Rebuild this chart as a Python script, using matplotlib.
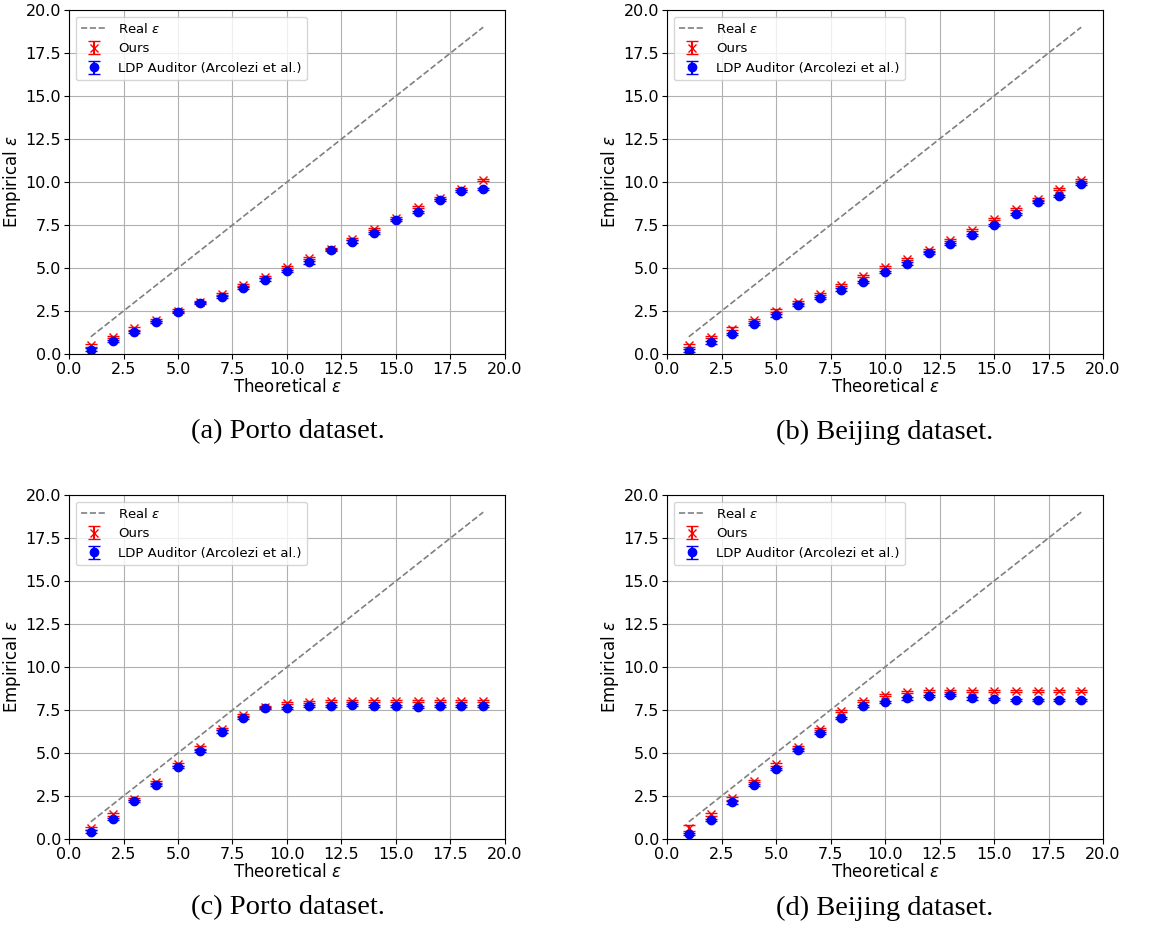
import numpy as np
import matplotlib
matplotlib.use("Agg")
import matplotlib.pyplot as plt

# theoretical epsilon values
eps = [1, 2, 3, 4, 5, 6, 7, 8, 9, 10, 11, 12, 13, 14, 15, 16, 17, 18, 19]

# (a) Porto, first setting
porto_ours = [0.50, 0.99, 1.49, 1.97, 2.52, 3.00, 3.50, 4.00, 4.50, 5.05,
              5.58, 6.08, 6.68, 7.28, 7.93, 8.52, 9.08, 9.62, 10.13]
porto_ldp = [0.25, 0.75, 1.28, 1.86, 2.44, 2.94, 3.29, 3.85, 4.33, 4.85,
             5.32, 6.02, 6.54, 7.04, 7.78, 8.28, 8.94, 9.48, 9.57]

# (b) Beijing, first setting
beijing_ours = [0.50, 0.99, 1.47, 1.97, 2.52, 3.02, 3.48, 4.00, 4.52, 5.04,
                5.53, 6.07, 6.63, 7.20, 7.85, 8.42, 9.00, 9.58, 10.12]
beijing_ldp = [0.19, 0.68, 1.16, 1.76, 2.24, 2.84, 3.23, 3.75, 4.18, 4.78,
               5.26, 5.86, 6.38, 6.90, 7.52, 8.14, 8.84, 9.17, 9.86]

# (c) Porto, second setting
porto2_ours = [0.62, 1.43, 2.32, 3.31, 4.34, 5.32, 6.41, 7.22, 7.69, 7.88,
               7.96, 8.00, 8.00, 8.00, 8.00, 8.00, 8.00, 8.00, 8.00]
porto2_ldp = [0.43, 1.16, 2.20, 3.14, 4.18, 5.13, 6.25, 7.05, 7.61, 7.61,
              7.73, 7.73, 7.78, 7.73, 7.73, 7.69, 7.73, 7.73, 7.73]

# (d) Beijing, second setting
beijing2_ours = [0.66, 1.45, 2.36, 3.37, 4.34, 5.36, 6.41, 7.42, 8.05, 8.38,
                 8.52, 8.58, 8.58, 8.58, 8.58, 8.58, 8.58, 8.58, 8.58]
beijing2_ldp = [0.29, 1.12, 2.13, 3.14, 4.05, 5.17, 6.14, 7.05, 7.74, 7.98,
                8.17, 8.29, 8.38, 8.17, 8.13, 8.09, 8.09, 8.09, 8.09]

# small standard deviations (error bars)
err_ours = [0.10, 0.08, 0.08, 0.07, 0.07, 0.06, 0.06, 0.06, 0.06, 0.06,
            0.06, 0.06, 0.06, 0.06, 0.06, 0.06, 0.06, 0.06, 0.06]
err_ours_d = [0.18, 0.09, 0.08, 0.07, 0.07, 0.06, 0.06, 0.06, 0.06, 0.06,
              0.06, 0.06, 0.06, 0.06, 0.06, 0.06, 0.06, 0.06, 0.06]
err_ldp = [0.08, 0.07, 0.07, 0.06, 0.06, 0.06, 0.06, 0.06, 0.06, 0.06,
           0.06, 0.06, 0.06, 0.06, 0.06, 0.06, 0.06, 0.06, 0.06]

captions = ["(a) Porto dataset.", "(b) Beijing dataset.",
            "(c) Porto dataset.", "(d) Beijing dataset."]

panels = [(porto_ours, porto_ldp, err_ours),
          (beijing_ours, beijing_ldp, err_ours),
          (porto2_ours, porto2_ldp, err_ours),
          (beijing2_ours, beijing2_ldp, err_ours_d)]

W, H = 1152, 947
fig = plt.figure(figsize=(W / 100, H / 100), dpi=100)

# axes boxes in pixels: left, top, right, bottom
boxes = [(69, 10, 505, 354), (667, 10, 1103, 354),
         (69, 495, 505, 839), (667, 495, 1103, 839)]
cap_pos = [(288, 432), (885, 432), (288, 908), (885, 908)]

for box, (ours, ldp, err_o), cap, cp in zip(boxes, panels, captions, cap_pos):
    l, t, r, b = box
    ax = fig.add_axes([l / W, 1 - b / H, (r - l) / W, (b - t) / H])
    ax.plot(eps, eps, "--", color="gray", linewidth=1.2, label=r"Real $\varepsilon$")
    ax.errorbar(eps, ours, yerr=err_o, fmt="x", color="red", ecolor="red",
                capsize=4, markersize=6, label="Ours")
    ax.errorbar(eps, ldp, yerr=err_ldp, fmt="o", color="blue", ecolor="blue",
                capsize=4, markersize=6, label="LDP Auditor (Arcolezi et al.)")
    ax.set_xlim(0, 20)
    ax.set_ylim(0, 20)
    ax.set_xticks(np.arange(0, 20.1, 2.5))
    ax.set_yticks(np.arange(0, 20.1, 2.5))
    ax.tick_params(labelsize=11.5, pad=2)
    ax.grid(True, color="#b0b0b0", linewidth=0.8)
    ax.set_xlabel(r"Theoretical $\varepsilon$", fontsize=12, labelpad=1)
    ax.set_ylabel(r"Empirical $\varepsilon$", fontsize=12, labelpad=2)
    ax.legend(loc="upper left", fontsize=9.5)
    fig.text(cp[0] / W, 1 - cp[1] / H, cap, ha="center", va="center",
             fontsize=20.5, family="Liberation Serif")

fig.savefig("out.png", dpi=100)
